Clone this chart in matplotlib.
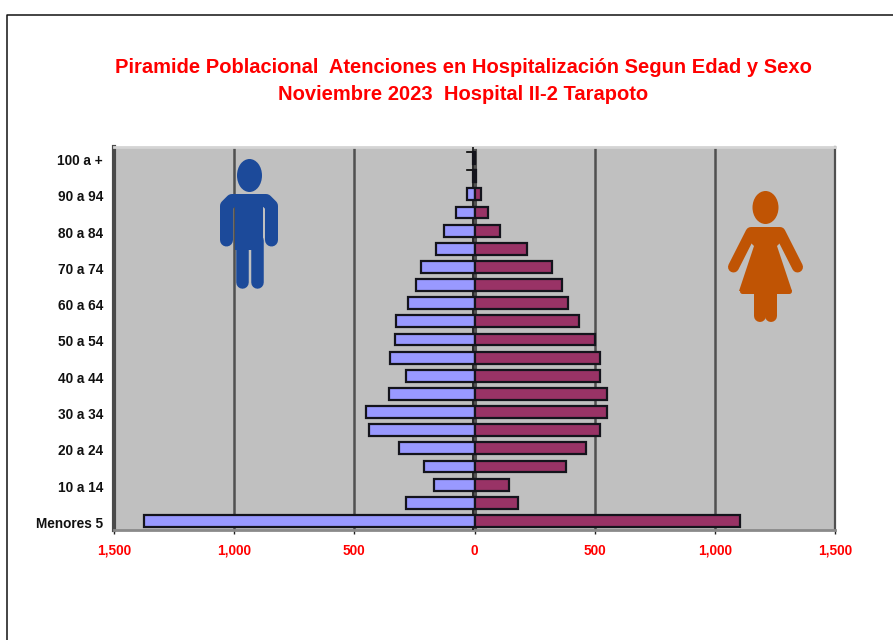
import matplotlib
matplotlib.use("Agg")
import matplotlib.pyplot as plt
from matplotlib.patches import Ellipse, Polygon
from matplotlib.lines import Line2D

plt.rcParams['font.family'] = ['Liberation Sans', 'DejaVu Sans']

groups = ["Menores 5", "5 a 9", "10 a 14", "15 a 19", "20 a 24", "25 a 29", "30 a 34",
          "35 a 39", "40 a 44", "45 a 49", "50 a 54", "55 a 59", "60 a 64", "65 a 69",
          "70 a 74", "75 a 79", "80 a 84", "85 a 89", "90 a 94", "95 a 99", "100 a +"]
hombres = [1375, 283, 170, 212, 316, 440, 453, 357, 287, 353, 332, 328, 278, 245,
           224, 162, 125, 75, 33, 8, 5]
mujeres = [1105, 183, 145, 382, 465, 523, 553, 553, 523, 523, 503, 436, 390, 366,
           324, 220, 108, 58, 25, 8, 4]
x_ticks = [-1500, -1000, -500, 0, 500, 1000, 1500]
x_labels = ["1,500", "1,000", "500", "0", "500", "1,000", "1,500"]
title_text = "Piramide Poblacional  Atenciones en Hospitalización Segun Edad y Sexo\nNoviembre 2023  Hospital II-2 Tarapoto"

W, H = 893, 640
fig = plt.figure(figsize=(W / 100, H / 100), dpi=100, facecolor="white")
ax = fig.add_axes([114 / W, 1 - 530 / H, (835 - 114) / W, (530 - 147) / H])
ax.set_facecolor("#C0C0C0")
ax.set_axisbelow(True)
ax.set_xlim(-1500, 1500)
ax.set_ylim(-0.5, len(groups) - 0.39)

ax.xaxis.grid(True, color="#505050", lw=1.8)
pos = list(range(len(groups)))
ax.barh(pos, [-v for v in hombres], height=0.65, color="#9999FF", edgecolor="#14141c", lw=1.6, zorder=3)
ax.barh(pos, mujeres, height=0.65, color="#993366", edgecolor="#14141c", lw=1.6, zorder=3)
ax.axvline(0, color="#505050", lw=2.2, zorder=2)
ax.axvline(-6, color="black", lw=1.1, zorder=2.6)

ax.set_xticks(x_ticks)
ax.set_xticklabels(x_labels, color="#FF0000", fontweight="bold", fontsize=9.8)
ax.tick_params(axis="x", length=3, width=1, color="#222222", pad=7)
ax.set_yticks([p - 0.08 for p in pos[::2]])
ax.set_yticklabels(groups[::2], fontweight="bold", fontsize=9.8, color="#111111")
ax.tick_params(axis="y", length=0, pad=8)
# tick marks on the zero axis, sitting just behind the bars
for p in pos:
    ax.plot([-6, -30], [p + 0.33, p + 0.33], color="black", lw=1.2, zorder=2.5)

ax.spines["left"].set_color("#4a4a4a"); ax.spines["left"].set_linewidth(3)
ax.spines["right"].set_color("#505050"); ax.spines["right"].set_linewidth(1.6)
ax.spines["top"].set_color("#d4d4d4"); ax.spines["top"].set_linewidth(2)
ax.spines["bottom"].set_color("#8a8a8a"); ax.spines["bottom"].set_linewidth(2)

fig.text(463 / W, 1 - 81 / H, title_text, ha="center", va="center", color="#FF0000",
         fontweight="bold", fontsize=14.5, linespacing=1.47)

# outer chart border
fig.add_artist(Line2D([7 / W, 7 / W, 1], [0, 1 - 14.5 / H, 1 - 14.5 / H], color="#111111", lw=1.1))

def px(x, y):
    return (x / W, 1 - y / H)

def stroke(points, color, width):
    xs = [p[0] / W for p in points]
    ys = [1 - p[1] / H for p in points]
    fig.add_artist(Line2D(xs, ys, color=color, lw=width * 0.72, solid_capstyle="round",
                          solid_joinstyle="round", zorder=6))

def blob(x, y, w, h, color):
    fig.add_artist(Ellipse(px(x, y), w / W, h / H, color=color, transform=fig.transFigure, lw=0, zorder=6))

def poly(points, color):
    fig.add_artist(Polygon([px(*p) for p in points], closed=True, color=color, lw=0,
                           transform=fig.transFigure, zorder=6))

# male figure
blue = "#1C4A9A"
blob(249.5, 175.5, 25, 33, blue)
stroke([(226.5, 240), (226.5, 206), (232, 200.5), (266, 200.5), (271.5, 206), (271.5, 240)], blue, 13)
poly([(235, 200), (263, 200), (263, 250), (235, 250)], blue)
stroke([(241.5, 240), (241.5, 282)], blue, 12.5)
stroke([(257, 240), (257, 282)], blue, 12.5)

# female figure
orange = "#C05404"
blob(765.5, 207.5, 26, 33, orange)
stroke([(733.5, 267), (751, 232.5), (780, 232.5), (797.5, 267)], orange, 11)
poly([(750, 228), (781, 228), (785, 238), (777, 246), (792, 291), (739, 291), (754, 246), (746, 238)], orange)
stroke([(742, 290.5), (789, 290.5)], orange, 5)
stroke([(760, 293), (760, 316)], orange, 12)
stroke([(771, 293), (771, 316)], orange, 12)

fig.savefig("out.png", dpi=100, facecolor="white")
